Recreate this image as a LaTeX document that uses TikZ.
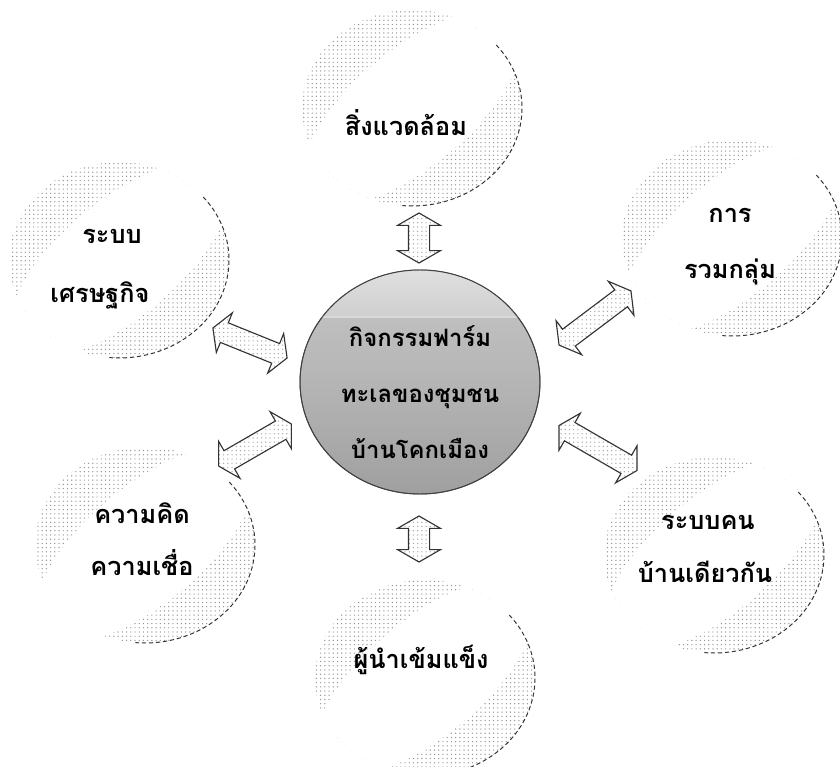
\documentclass[tikz,border=0pt]{standalone}
\usepackage{fontspec}
\newfontfamily\thaifont[Script=Thai]{Loma}
\usetikzlibrary{shapes.arrows,shapes.geometric,patterns}
\begin{document}
\begin{tikzpicture}[x=0.025cm,y=-0.025cm,
  bubble/.pic={
    \begin{scope}
      \clip (0,0) ellipse [x radius=110, y radius=98];
      \fill[pattern=dots, pattern color=gray!85] (-112,-100) rectangle (112,100);
      \fill[white, rotate=40] (0,0) ellipse [x radius=135, y radius=58];
    \end{scope}
    \draw[black!80, densely dashed, line width=0.7pt]
      (-40:110 and 98) arc [start angle=-40, end angle=95, x radius=110, y radius=98];
  },
  lbl/.style={font=\thaifont\bfseries\fontsize{18}{40}\selectfont, align=center, inner sep=0pt},
  arr/.style={double arrow, draw=black!80, line width=0.8pt,
    pattern=dots, pattern color=gray!70,
    inner sep=0.25cm, double arrow head extend=0.27cm,
    double arrow tip angle=120, minimum height=#1}
]
\useasboundingbox (0,0) rectangle (840,767);

% satellite bubbles
\pic at (412,108) {bubble};
\pic at (732,238) {bubble};
\pic at (119,260) {bubble};
\pic at (145,545) {bubble};
\pic at (714,555) {bubble};
\pic at (425,678) {bubble};

% centre ball
\node[ellipse, minimum width=6cm, minimum height=5.6cm, inner sep=0pt,
  top color=gray!45, bottom color=gray!75, middle color=gray!58,
  draw=black!70, line width=0.6pt] (c) at (420,382) {};
\begin{scope}
  \clip (420,382) ellipse [x radius=120, y radius=112];
  \fill[top color=gray!22, bottom color=gray!38] (290,260) rectangle (550,317);
\end{scope}
\draw[white!70!gray, line width=0.8pt] (322,317) -- (518,317);
\draw[black!75, line width=0.7pt] (c.center) ellipse [x radius=120, y radius=112];
\node[lbl, font=\thaifont\bfseries\fontsize{17}{40}\selectfont] (ct) at (420,392)
  {กิจกรรมฟาร์ม\\ทะเลของชุมชน\\บ้านโคกเมือง};

% labels
\node[lbl] (t1) at (406,123) {สิ่งแวดล้อม};
\node[lbl] (t2) at (730,247) {การ\\รวมกลุ่ม};
\node[lbl] (t3a) at (112,236) {ระบบ};
\node[lbl] (t3b) at (100,295) {เศรษฐกิจ};
\node[lbl, font=\thaifont\bfseries\fontsize{18}{37}\selectfont] (t4) at (142,539) {ความคิด\\ความเชื่อ};
\node[lbl] (t5a) at (708,522) {ระบบคน};
\node[lbl] (t5b) at (705,572) {บ้านเดียวกัน};
\node[lbl] (t6) at (421,660) {ผู้นำเข้มแข็ง};

% double block arrows
\node[arr=1.25cm, rotate=90] (a1) at (419,238) {};
\node[arr=1.15cm, rotate=90] (a2) at (419,539) {};
\node[arr=2cm, rotate=-22] (a3) at (250,343) {};
\node[arr=2.1cm, rotate=30] (a4) at (255,445) {};
\node[arr=2.25cm, rotate=37] (a5) at (595,318) {};
\node[arr=2.25cm, rotate=-30] (a6) at (598,448) {};
\end{tikzpicture}
\end{document}
